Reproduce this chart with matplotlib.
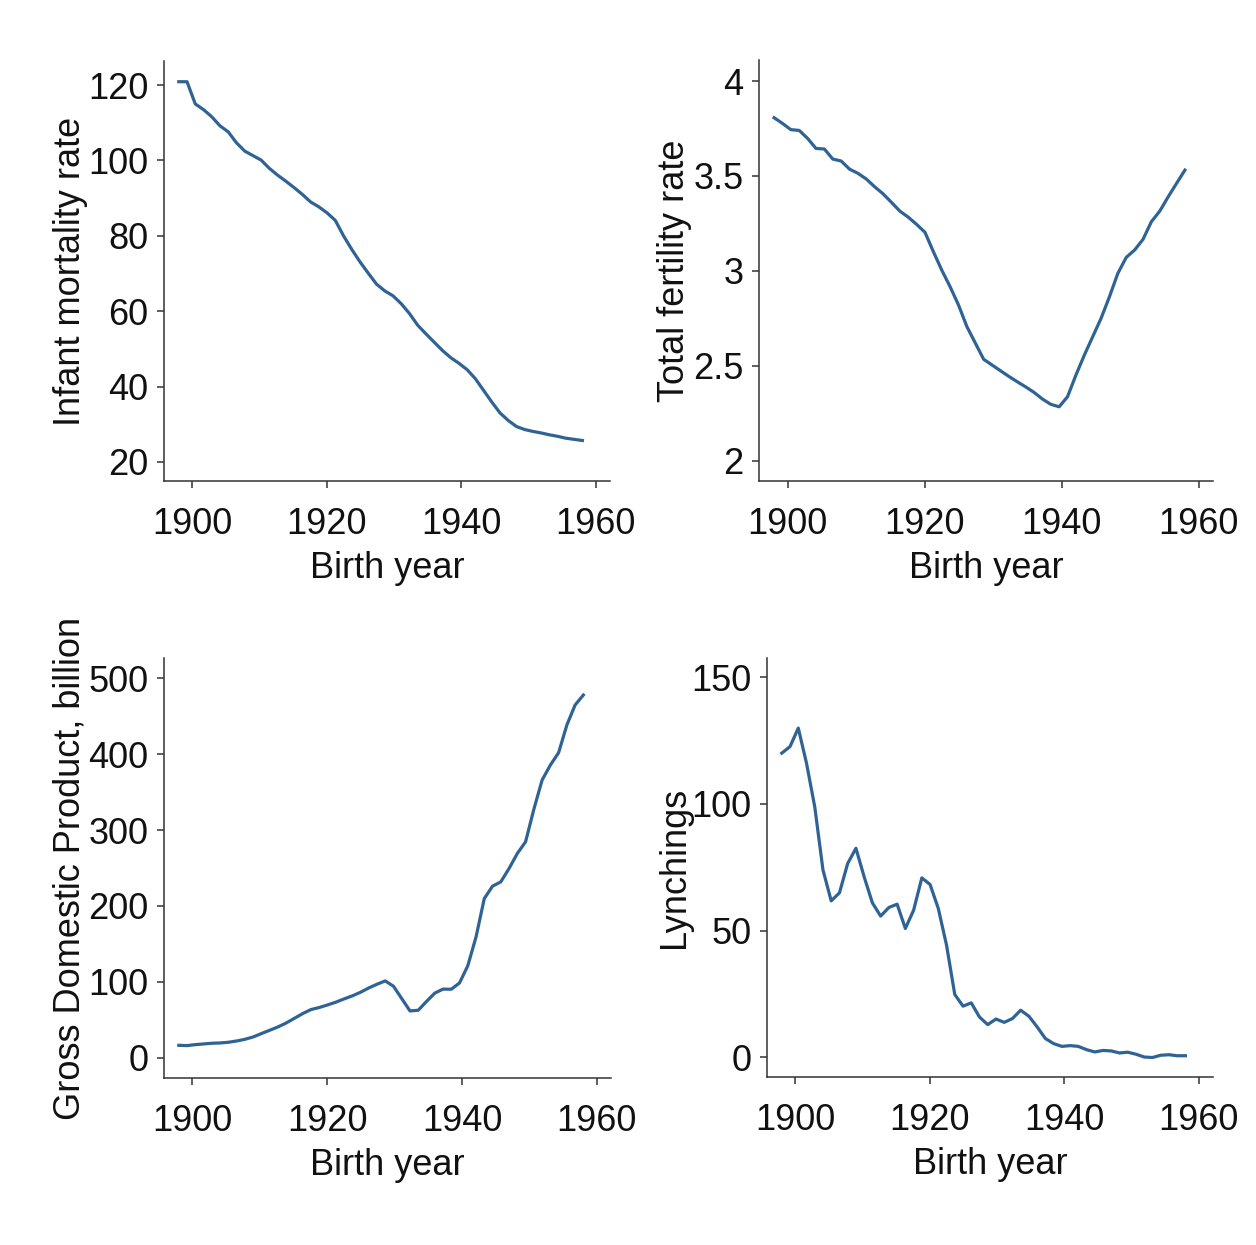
import numpy as np
import matplotlib
matplotlib.use("Agg")
import matplotlib.pyplot as plt

plt.rcParams["font.family"] = ["Liberation Sans", "DejaVu Sans"]

# Cohort birth years (50 cohorts, 1898-1958)
birth_year = np.linspace(1898, 1958, 50)

infant_mortality = [
    120.9, 120.9, 115.0, 113.5, 111.6, 109.2, 107.6, 104.7, 102.5, 101.3,
    100.1, 97.9, 96.1, 94.5, 92.8, 91.0, 89.0, 87.7, 86.1, 84.1,
    80.0, 76.4, 73.1, 70.1, 67.2, 65.4, 64.1, 62.0, 59.4, 56.3,
    54.0, 51.8, 49.6, 47.7, 46.2, 44.5, 42.1, 39.0, 35.9, 33.0,
    31.0, 29.4, 28.6, 28.1, 27.7, 27.2, 26.8, 26.3, 26.0, 25.7,
]

fertility = [
    3.807, 3.777, 3.744, 3.740, 3.698, 3.645, 3.642, 3.589, 3.579, 3.536,
    3.514, 3.484, 3.443, 3.406, 3.361, 3.315, 3.283, 3.245, 3.203, 3.101,
    3.004, 2.916, 2.820, 2.706, 2.620, 2.534, 2.504, 2.474, 2.444, 2.416,
    2.389, 2.360, 2.325, 2.297, 2.284, 2.337, 2.451, 2.556, 2.653, 2.750,
    2.864, 2.987, 3.071, 3.110, 3.166, 3.259, 3.315, 3.390, 3.461, 3.531,
]

gdp = [
    16.2, 15.8, 17.1, 18.0, 18.9, 19.3, 20.2, 21.9, 24.1, 27.2,
    31.7, 36.0, 40.4, 45.6, 51.8, 58.0, 63.3, 66.0, 69.4, 73.0,
    77.3, 81.3, 86.1, 91.8, 96.7, 101.1, 94.1, 77.8, 61.5, 62.4,
    74.0, 85.0, 90.3, 90.1, 98.4, 121.0, 159.1, 209.7, 226.0, 231.7,
    249.3, 269.1, 284.5, 327.2, 365.8, 385.6, 401.9, 438.4, 464.8, 478.0,
]

lynchings = [
    120.1, 122.7, 130.0, 116.1, 98.9, 73.9, 61.7, 64.9, 76.5, 82.5,
    71.2, 60.9, 55.7, 59.1, 60.4, 50.8, 58.0, 70.8, 68.2, 58.7,
    44.2, 24.7, 20.1, 21.4, 15.8, 12.8, 15.0, 13.7, 15.2, 18.5,
    16.1, 11.9, 7.3, 5.3, 4.2, 4.5, 4.2, 2.9, 2.0, 2.6,
    2.4, 1.6, 1.9, 1.1, 0.0, -0.2, 0.7, 0.9, 0.5, 0.5,
]

x_ticks = [1900, 1920, 1940, 1960]

W, H = 1256, 1245
fig = plt.figure(figsize=(W / 100, H / 100), dpi=100)
fig.patch.set_facecolor("white")

LINE = "#2f6396"
AXC = "#333333"
FS = 26


def px_axes(left, right, top, bottom):
    return fig.add_axes([left / W, 1 - bottom / H, (right - left) / W, (bottom - top) / H])


panels = [
    dict(box=(164, 610, 61, 481), y=infant_mortality, ylim=(14.95, 126.4),
         yticks=[20, 40, 60, 80, 100, 120], ylabels=None,
         ylabel="Infant mortality rate", lab_x=88),
    dict(box=(759, 1213, 60, 481), y=fertility, ylim=(1.893, 4.111),
         yticks=[2, 2.5, 3, 3.5, 4], ylabels=["2", "2.5", "3", "3.5", "4"],
         ylabel="Total fertility rate", lab_x=692),
    dict(box=(164, 611, 658, 1078), y=gdp, ylim=(-26.9, 526.8),
         yticks=[0, 100, 200, 300, 400, 500], ylabels=None,
         ylabel="Gross Domestic Product, billion", lab_x=88),
    dict(box=(767, 1213, 658, 1077), y=lynchings, ylim=(-7.9, 157.7),
         yticks=[0, 50, 100, 150], ylabels=None,
         ylabel="Lynchings", lab_x=692),
]

for p in panels:
    left, right, top, bottom = p["box"]
    ax = px_axes(left, right, top, bottom)
    ax.plot(birth_year, p["y"], color=LINE, lw=2.3, solid_joinstyle="round")
    ax.set_xlim(1895.8, 1962.1)
    ax.set_ylim(*p["ylim"])
    ax.set_xticks(x_ticks)
    ax.set_xticklabels([str(t) for t in x_ticks])
    ax.set_yticks(p["yticks"])
    if p["ylabels"] is not None:
        ax.set_yticklabels(p["ylabels"])
    for s in ("top", "right"):
        ax.spines[s].set_visible(False)
    for s in ("left", "bottom"):
        ax.spines[s].set_color(AXC)
        ax.spines[s].set_linewidth(1.1)
    ax.tick_params(axis="both", direction="out", length=5, width=1.1,
                   color=AXC, labelsize=FS, labelcolor="#111111")
    ax.tick_params(axis="x", pad=14)
    ax.tick_params(axis="y", pad=6)
    ax.set_xlabel("Birth year", fontsize=FS, color="#111111", labelpad=6)
    ax.set_ylabel(p["ylabel"], fontsize=FS, color="#111111")
    ax.yaxis.set_label_coords((p["lab_x"] - left) / (right - left), 0.5)

fig.savefig("out.png", dpi=100, facecolor="white")
